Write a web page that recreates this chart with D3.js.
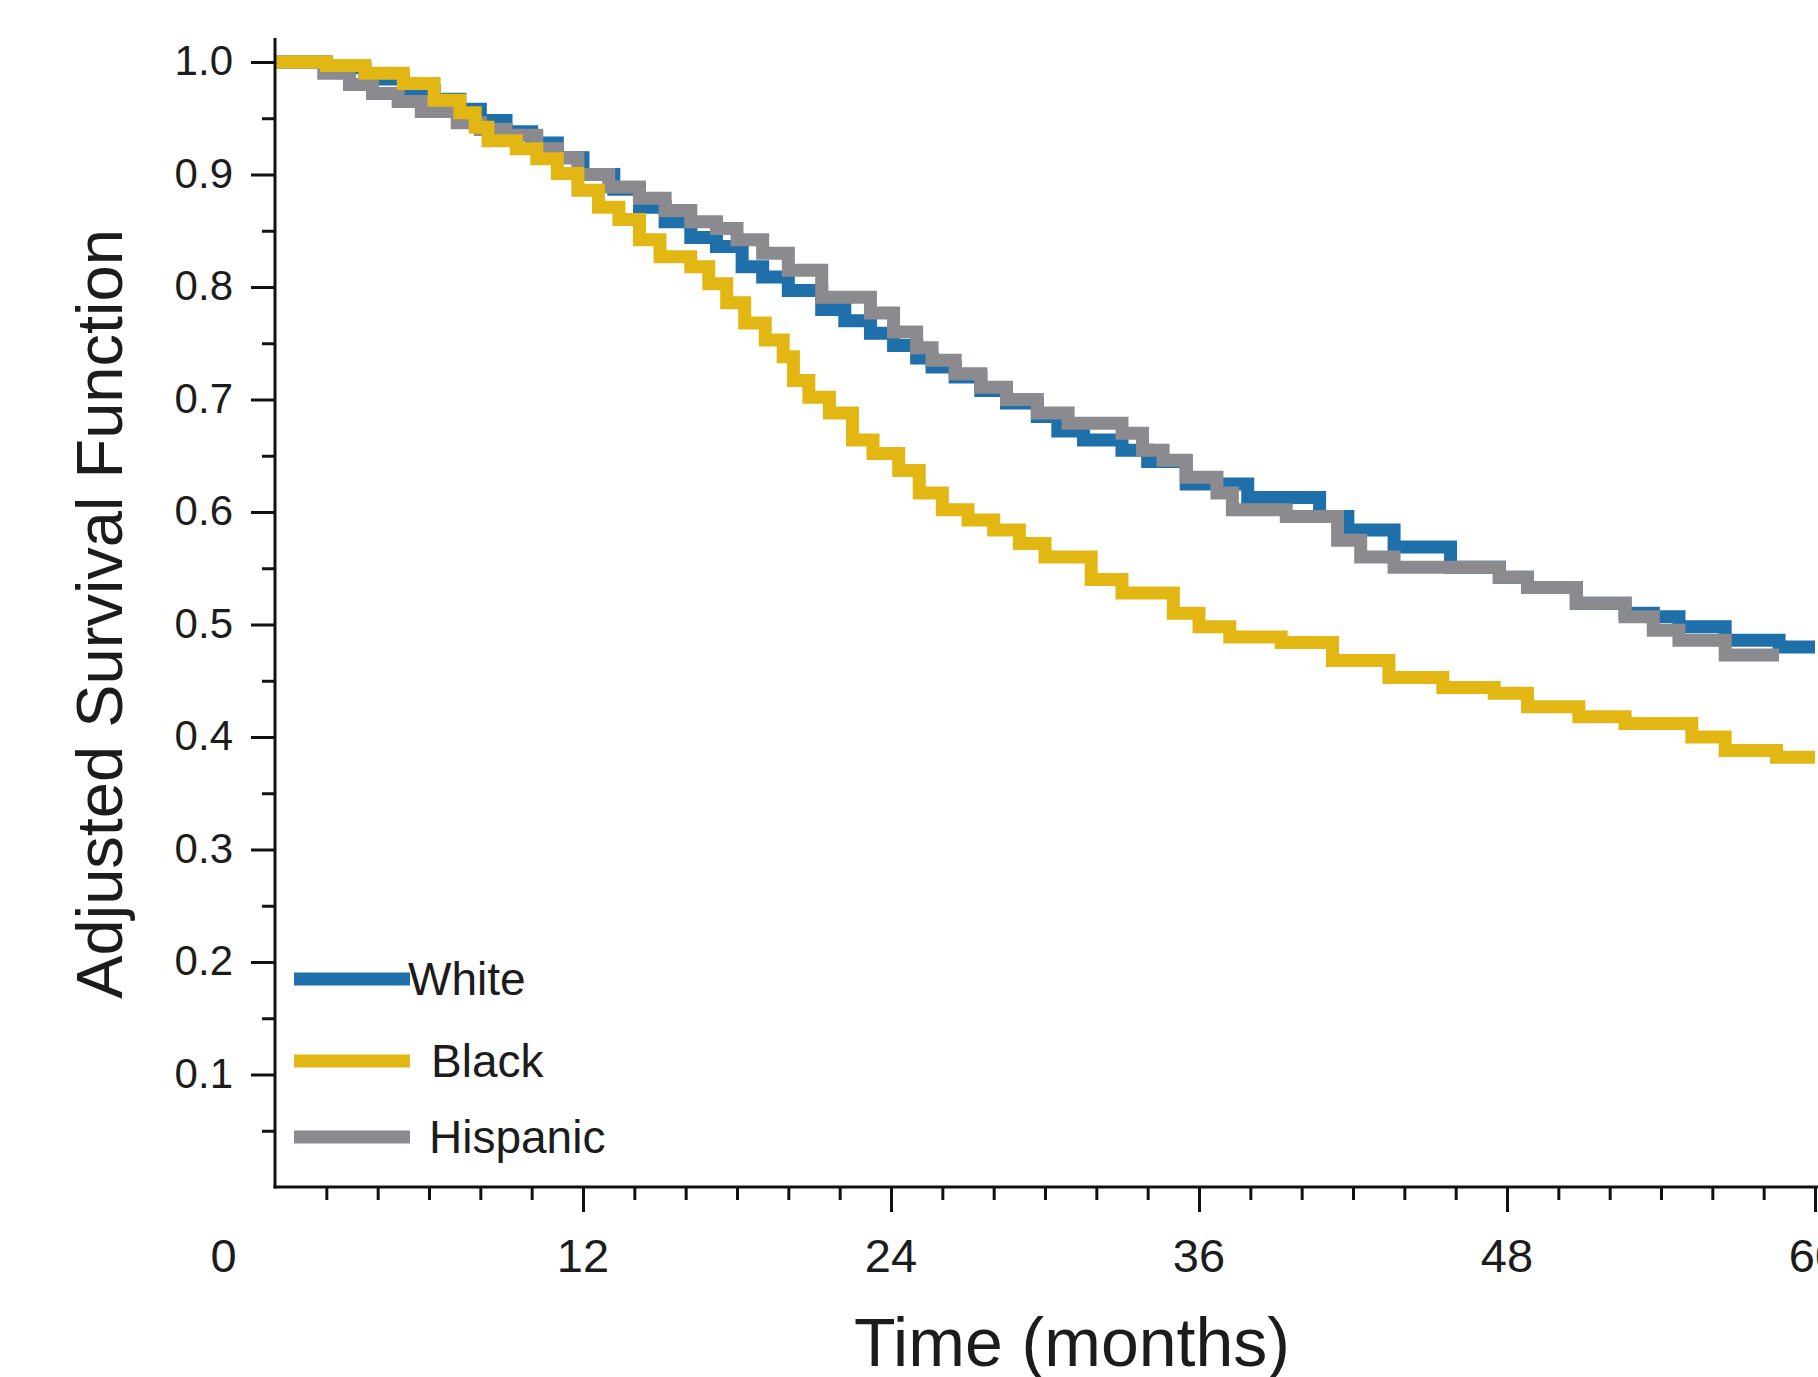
<!DOCTYPE html>
<html>
<head>
<meta charset="utf-8">
<script src="https://cdn.jsdelivr.net/npm/d3@7/dist/d3.min.js"></script>
<style>
  html, body { margin: 0; padding: 0; background: #ffffff; }
  svg { display: block; font-family: "Liberation Sans", Arial, sans-serif; }
</style>
</head>
<body>
<svg id="chart" width="1818" height="1377"></svg>
<script>
// ---------------- data ----------------
const seriesNames = ["White", "Black", "Hispanic"];

const whiteMonths = [0, 2.0, 3.5, 5.0, 6.2, 7.2, 8.0, 9.0, 10.0, 11.0, 12.0, 13.2, 14.2, 15.2, 16.2, 17.2, 18.2, 19.0, 20.0, 21.3, 22.2, 23.2, 24.1, 25.0, 25.6, 26.5, 27.5, 28.5, 29.7, 30.5, 31.5, 33.0, 34.0, 35.5, 37.9, 40.7, 41.8, 43.6, 45.8, 47.7, 48.8, 50.7, 52.6, 53.7, 54.7, 56.5, 58.6, 60];
const whiteSurv   = [1.0, 0.995, 0.985, 0.975, 0.967, 0.958, 0.948, 0.938, 0.928, 0.915, 0.900, 0.887, 0.871, 0.858, 0.844, 0.836, 0.818, 0.809, 0.797, 0.780, 0.770, 0.759, 0.748, 0.737, 0.729, 0.720, 0.708, 0.697, 0.685, 0.672, 0.664, 0.655, 0.645, 0.625, 0.613, 0.596, 0.584, 0.569, 0.551, 0.542, 0.533, 0.519, 0.510, 0.507, 0.498, 0.486, 0.480, 0.480];

const blackMonths = [0, 2.0, 3.5, 5.0, 6.2, 7.2, 7.8, 8.3, 9.4, 10.2, 11.0, 11.8, 12.6, 13.4, 14.2, 15.0, 16.2, 16.9, 17.6, 18.3, 19.1, 19.8, 20.2, 20.8, 21.6, 22.5, 23.3, 24.3, 25.1, 26.0, 27.0, 28.0, 29.0, 30.0, 31.8, 33.0, 35.0, 36.0, 37.2, 39.2, 41.2, 43.4, 45.5, 47.5, 48.8, 50.8, 52.6, 55.2, 56.5, 58.5, 60];
const blackSurv   = [1.0, 0.997, 0.990, 0.981, 0.966, 0.955, 0.942, 0.930, 0.923, 0.914, 0.901, 0.886, 0.871, 0.860, 0.842, 0.827, 0.818, 0.803, 0.786, 0.768, 0.753, 0.738, 0.717, 0.702, 0.688, 0.664, 0.652, 0.637, 0.617, 0.602, 0.593, 0.584, 0.572, 0.560, 0.540, 0.528, 0.510, 0.498, 0.489, 0.484, 0.468, 0.453, 0.444, 0.439, 0.427, 0.418, 0.412, 0.400, 0.388, 0.382, 0.382];

const hispanicMonths = [0, 1.9, 2.9, 3.8, 4.8, 5.7, 7.1, 8.0, 9.0, 10.2, 11.0, 11.8, 13.0, 14.2, 15.2, 16.2, 17.2, 18.0, 19.0, 20.0, 21.3, 23.2, 24.1, 25.0, 25.6, 26.5, 27.5, 28.5, 29.7, 30.9, 33.0, 33.8, 34.6, 35.5, 36.7, 37.3, 39.4, 41.4, 42.3, 43.6, 47.7, 48.8, 50.7, 52.6, 53.7, 54.7, 56.5, 58.6];
const hispanicSurv   = [1.0, 0.990, 0.980, 0.972, 0.965, 0.956, 0.946, 0.940, 0.935, 0.923, 0.915, 0.900, 0.889, 0.879, 0.868, 0.858, 0.852, 0.842, 0.830, 0.815, 0.791, 0.777, 0.760, 0.746, 0.735, 0.723, 0.711, 0.700, 0.688, 0.679, 0.670, 0.655, 0.646, 0.631, 0.617, 0.602, 0.596, 0.575, 0.560, 0.551, 0.542, 0.533, 0.519, 0.507, 0.495, 0.486, 0.473, 0.473];

const yMajorTicks = [0.1, 0.2, 0.3, 0.4, 0.5, 0.6, 0.7, 0.8, 0.9, 1.0];
const yMinorTicks = [0.05, 0.15, 0.25, 0.35, 0.45, 0.55, 0.65, 0.75, 0.85, 0.95];
const xMajorTicks = [12, 24, 36, 48, 60];
const xMinorTicks = [2, 4, 6, 8, 10, 14, 16, 18, 20, 22, 26, 28, 30, 32, 34, 38, 40, 42, 44, 46, 50, 52, 54, 56, 58];
const xTickLabels = ["0", "12", "24", "36", "48", "60"];
const xTickLabelValues = [0, 12, 24, 36, 48, 60];

// ---------------- styles ----------------
const colors = { White: "#1f6fab", Black: "#e2b714", Hispanic: "#8b8a8f" };
const textColor = "#1c1c1c";

// ---------------- scales ----------------
const svg = d3.select("#chart");
const x = d3.scaleLinear().domain([0, 60]).range([275, 1815]);
const y = d3.scaleLinear().domain([0, 1]).range([1187, 62]);

const series = {
  White: whiteMonths.map((m, i) => [m, whiteSurv[i]]),
  Black: blackMonths.map((m, i) => [m, blackSurv[i]]),
  Hispanic: hispanicMonths.map((m, i) => [m, hispanicSurv[i]])
};

// ---------------- curves ----------------
const line = d3.line()
  .x(d => x(d[0]))
  .y(d => y(d[1]))
  .curve(d3.curveStepAfter);

const drawOrder = ["White", "Hispanic", "Black"];
svg.append("g").selectAll("path")
  .data(drawOrder)
  .join("path")
  .attr("d", k => line(series[k]))
  .attr("fill", "none")
  .attr("stroke", k => colors[k])
  .attr("stroke-width", 13)
  .attr("stroke-linejoin", "miter")
  .attr("stroke-linecap", "butt");

// ---------------- axes ----------------
// y axis
const yAxisMajor = d3.axisLeft(y).tickValues(yMajorTicks).tickSize(24).tickFormat(d3.format(".1f")).tickPadding(18);
const yAxisMinor = d3.axisLeft(y).tickValues(yMinorTicks).tickSize(13).tickFormat("");
const gy = svg.append("g").attr("transform", `translate(${x(0)},0)`).call(yAxisMajor);
const gyMinor = svg.append("g").attr("transform", `translate(${x(0)},0)`).call(yAxisMinor);
[gy, gyMinor].forEach(g => {
  g.select(".domain").remove();
  g.selectAll(".tick line").attr("stroke", "#111").attr("stroke-width", 3);
});
gy.selectAll(".tick text")
  .attr("font-size", 42)
  .attr("fill", textColor)
  .attr("font-family", "Liberation Sans, Arial, sans-serif")
  .attr("dy", "0.30em");

// x axis
const xAxisMajor = d3.axisBottom(x).tickValues(xMajorTicks).tickSize(25).tickFormat("");
const xAxisMinor = d3.axisBottom(x).tickValues(xMinorTicks).tickSize(13).tickFormat("");
const gx = svg.append("g").attr("transform", `translate(0,${y(0)})`).call(xAxisMajor);
const gxMinor = svg.append("g").attr("transform", `translate(0,${y(0)})`).call(xAxisMinor);
[gx, gxMinor].forEach(g => {
  g.select(".domain").remove();
  g.selectAll(".tick line").attr("stroke", "#111").attr("stroke-width", 3);
});

// x tick labels (the "0" label sits left of the axis corner in the original)
svg.append("g").selectAll("text")
  .data(xTickLabelValues)
  .join("text")
  .attr("x", (d) => d === 0 ? x(0) - (x(2) - x(0)) : x(d))
  .attr("y", y(0) + 85)
  .attr("text-anchor", "middle")
  .attr("font-size", 47)
  .attr("fill", textColor)
  .text((d, i) => xTickLabels[i]);

// axis lines
svg.append("line")
  .attr("x1", x(0)).attr("x2", x(0))
  .attr("y1", 38).attr("y2", y(0) + 1.5)
  .attr("stroke", "#111").attr("stroke-width", 3);
svg.append("line")
  .attr("x1", x(0) - 1.5).attr("x2", 1818)
  .attr("y1", y(0)).attr("y2", y(0))
  .attr("stroke", "#111").attr("stroke-width", 3);

// axis titles
svg.append("text")
  .attr("x", 1072)
  .attr("y", 1366)
  .attr("text-anchor", "middle")
  .attr("font-size", 68)
  .attr("fill", textColor)
  .text("Time (months)");

svg.append("text")
  .attr("transform", "translate(122,614) rotate(-90)")
  .attr("text-anchor", "middle")
  .attr("font-size", 65)
  .attr("fill", textColor)
  .text("Adjusted Survival Function");

// ---------------- legend ----------------
const legendY = [979, 1061, 1137];
const legendTextX = [408, 431, 429];
const legendG = svg.append("g");
seriesNames.forEach((name, i) => {
  legendG.append("line")
    .attr("x1", 294).attr("x2", 410)
    .attr("y1", legendY[i]).attr("y2", legendY[i])
    .attr("stroke", colors[name])
    .attr("stroke-width", 13);
  legendG.append("text")
    .attr("x", legendTextX[i])
    .attr("y", legendY[i] + 16)
    .attr("font-size", 46)
    .attr("fill", textColor)
    .text(name);
});
</script>
</body>
</html>
